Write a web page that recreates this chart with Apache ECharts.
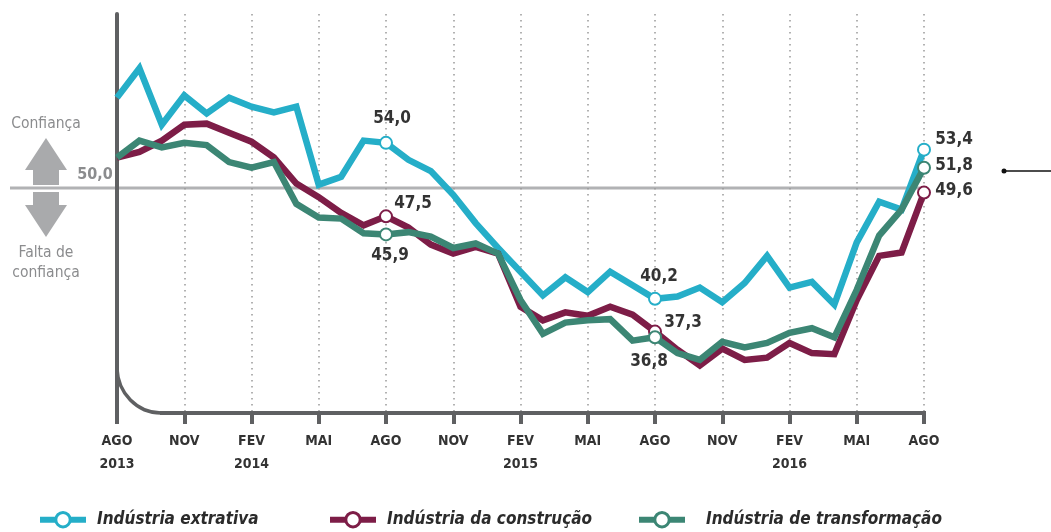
<!DOCTYPE html>
<html>
<head>
<meta charset="utf-8">
<style>
html, body { margin: 0; padding: 0; background: #fff; }
#chart { width: 1051px; height: 532px; }
</style>
<script src="https://cdn.jsdelivr.net/npm/echarts@6/dist/echarts.min.js"></script>
</head>
<body>
<div id="chart"></div>
<script>
let months = ["AGO","SET","OUT","NOV","DEZ","JAN","FEV","MAR","ABR","MAI","JUN","JUL",
  "AGO","SET","OUT","NOV","DEZ","JAN","FEV","MAR","ABR","MAI","JUN","JUL",
  "AGO","SET","OUT","NOV","DEZ","JAN","FEV","MAR","ABR","MAI","JUN","JUL","AGO"];
let yearLabels = { 0: "2013", 6: "2014", 18: "2015", 30: "2016" };

let extrativa = [58.0,60.6,55.6,58.2,56.6,58.0,57.2,56.7,57.2,50.3,51.0,54.2,
  54.0,52.5,51.5,49.4,46.9,44.7,42.6,40.5,42.1,40.8,42.6,41.4,
  40.2,40.4,41.2,39.9,41.6,44.0,41.2,41.7,39.7,45.2,48.8,48.1,53.4];
let construcao = [52.7,53.2,54.2,55.6,55.7,54.9,54.1,52.7,50.4,49.2,47.8,46.7,
  47.5,46.5,45.0,44.2,44.8,44.2,39.5,38.3,39.0,38.7,39.5,38.8,
  37.3,35.7,34.3,35.8,34.8,35.0,36.3,35.4,35.3,40.1,44.0,44.3,49.6];
let transformacao = [52.7,54.2,53.6,54.0,53.8,52.3,51.8,52.3,48.6,47.4,47.3,46.0,
  45.9,46.1,45.7,44.7,45.1,44.2,40.1,37.1,38.1,38.3,38.4,36.5,
  36.8,35.4,34.8,36.4,35.9,36.3,37.2,37.6,36.8,41.0,45.8,48.1,51.8];

let marked = [12, 24, 36];
let refLevel = 50;

const FONT = '"DejaVu Sans Condensed", "Liberation Sans", sans-serif';
const AXIS = "#5f6062";
const GREY = "#8b8c8e";
const ARROW = "#a9aaac";

// label offsets for the marked points, by index
let extOffsets = { 12: [6, -24], 24: [4, -22], 36: [30, -10] };
let conOffsets = { 12: [27, -13], 24: [28, -9], 36: [30, -2] };
let traOffsets = { 12: [4, 21], 24: [-6, 24], 36: [30, -2] };

function fmt(v) {
  return v.toFixed(1).replace(".", ",");
}

function buildData(values, offsets) {
  return values.map(function (v, i) {
    if (marked.indexOf(i) === -1) return { value: v, symbol: "none" };
    return {
      value: v,
      label: {
        show: true,
        position: "inside",
        offset: offsets[i],
        formatter: fmt(v),
        fontFamily: FONT,
        fontWeight: "bold",
        fontSize: 17,
        color: "#333"
      }
    };
  });
}

function lineSeries(name, values, color, offsets) {
  return {
    name: name,
    type: "line",
    data: buildData(values, offsets),
    symbol: "circle",
    symbolSize: 12,
    showAllSymbol: true,
    lineStyle: { color: color, width: 6.5, join: "miter" },
    itemStyle: { color: "#fff", borderColor: color, borderWidth: 2 },
    emphasis: { disabled: true }
  };
}

function legendAt(left, name, gap) {
  return {
    left: left,
    top: 511,
    data: [name],
    itemWidth: 46,
    itemHeight: 18,
    itemGap: 0,
    padding: 0,
    selectedMode: false,
    lineStyle: { width: 6 },
    itemStyle: { borderWidth: 3 },
    textStyle: {
      fontFamily: FONT,
      fontWeight: "bold",
      fontStyle: "italic",
      fontSize: 17,
      color: "#2b2b2b",
      padding: [0, 0, 0, gap]
    }
  };
}

let quarter = function (i) { return i % 3 === 0; };

let myChart = echarts.init(document.getElementById("chart"), null, { renderer: "canvas" });
myChart.setOption({
  animation: false,
  backgroundColor: "#fff",
  grid: { left: 117, right: 127, top: 14, bottom: 119 },
  legend: [
    legendAt(37, "Indústria extrativa", 6),
    legendAt(327, "Indústria da construção", 6),
    legendAt(636, "Indústria de transformação", 16)
  ],
  xAxis: {
    type: "category",
    boundaryGap: false,
    data: months,
    axisLine: { show: false },
    axisTick: { interval: quarter, length: 11, lineStyle: { color: AXIS, width: 4 } },
    splitLine: { show: true, interval: quarter, lineStyle: { color: "#999", width: 1.5, type: [1.5, 4.5] } },
    axisLabel: {
      interval: quarter,
      margin: 17,
      fontFamily: FONT,
      fontWeight: "bold",
      fontSize: 14,
      lineHeight: 23,
      color: "#333",
      formatter: function (val, i) {
        return yearLabels[i] ? val + "\n" + yearLabels[i] : val;
      }
    }
  },
  yAxis: {
    type: "value",
    min: 30.1,
    max: 65.4,
    axisLine: { show: true, lineStyle: { color: AXIS, width: 4 } },
    axisTick: { show: false },
    axisLabel: { show: false },
    splitLine: { show: false }
  },
  series: [
    lineSeries("Indústria extrativa", extrativa, "#25aec8", extOffsets),
    lineSeries("Indústria da construção", construcao, "#7d1d47", conOffsets),
    lineSeries("Indústria de transformação", transformacao, "#3c8674", traOffsets)
  ]
});

// reference line, rounded corner of the axis and the side annotations
let y50 = myChart.convertToPixel({ yAxisIndex: 0 }, refLevel);
let x0 = myChart.convertToPixel({ xAxisIndex: 0 }, 0);
let xEnd = myChart.convertToPixel({ xAxisIndex: 0 }, months.length - 1);
let yBase = myChart.convertToPixel({ yAxisIndex: 0 }, 30.1);

function sideText(text, cx, cy, opts) {
  return {
    type: "text",
    x: cx,
    y: cy,
    z: 5,
    style: Object.assign({
      text: text,
      fontFamily: FONT,
      fontSize: 15.5,
      fill: GREY,
      align: "center",
      verticalAlign: "middle"
    }, opts || {})
  };
}

myChart.setOption({
  graphic: [
    { type: "line", z: -1, shape: { x1: 10, y1: y50, x2: xEnd, y2: y50 }, style: { stroke: "#b1b2b4", lineWidth: 3 } },
    { type: "line", z: 1, shape: { x1: x0 + 43, y1: yBase, x2: xEnd + 2, y2: yBase }, style: { stroke: AXIS, lineWidth: 4 } },
    {
      type: "bezierCurve",
      z: 1,
      shape: { x1: x0, y1: yBase - 44, cpx1: x0 + 1, cpy1: yBase - 20, cpx2: x0 + 20, cpy2: yBase, x2: x0 + 44, y2: yBase },
      style: { stroke: AXIS, lineWidth: 3.5, fill: null }
    },
    {
      type: "polygon",
      shape: { points: [[46, 138], [67, 170], [59, 170], [59, 185], [33, 185], [33, 170], [25, 170]] },
      style: { fill: ARROW }
    },
    {
      type: "polygon",
      shape: { points: [[33, 192], [59, 192], [59, 205], [67, 205], [46, 237], [25, 205], [33, 205]] },
      style: { fill: ARROW }
    },
    sideText("Confiança", 46, 124),
    sideText("Falta de", 46, 253),
    sideText("confiança", 46, 273),
    sideText("50,0", 95, 175, { fontWeight: "bold", fontSize: 16 }),
    { type: "line", shape: { x1: 1004, y1: 171, x2: 1051, y2: 171 }, style: { stroke: "#111", lineWidth: 1.5 } },
    { type: "circle", shape: { cx: 1004, cy: 171, r: 2.5 }, style: { fill: "#111" } }
  ]
});
</script>
</body>
</html>
